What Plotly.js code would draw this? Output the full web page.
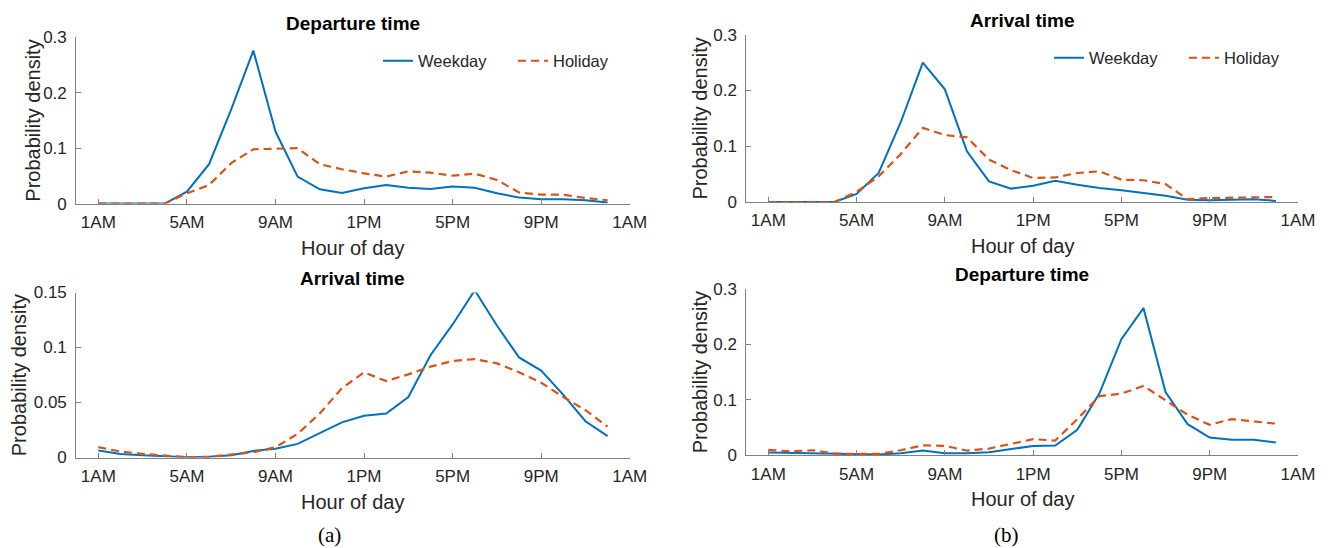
<!DOCTYPE html>
<html>
<head>
<meta charset="utf-8">
<script src="https://cdn.plot.ly/plotly-3.0.1.min.js"></script>
<style>html,body{margin:0;padding:0;background:#fff;}#chart{width:1330px;height:548px;}</style>
</head>
<body>
<div id="chart"></div>
<script>
// ---- Data (hour of day 1..24) ----
const hours = [1,2,3,4,5,6,7,8,9,10,11,12,13,14,15,16,17,18,19,20,21,22,23,24];
const tickHours = [1,5,9,13,17,21,25];
const tickLabels = ['1AM','5AM','9AM','1PM','5PM','9PM','1AM'];
const seriesNames = ['Weekday','Holiday'];

// (a) weekday trips: departure (morning) and arrival
const aDepWeekday = [0,0,0,0,0.0215,0.071,0.17,0.276,0.130,0.0486,0.0257,0.019,0.0275,0.0335,0.0287,0.0263,0.031,0.0287,0.0185,0.011,0.008,0.008,0.006,0.002];
const aDepHoliday = [0,0,0,0,0.0185,0.0335,0.073,0.098,0.099,0.100,0.071,0.062,0.0546,0.0486,0.0582,0.0558,0.0504,0.054,0.0426,0.02,0.016,0.016,0.01,0.006];
const aArrWeekday = [0.0064,0.0033,0.002,0.0012,0.0003,0.0006,0.002,0.006,0.0079,0.0124,0.022,0.032,0.038,0.040,0.055,0.093,0.121,0.152,0.120,0.091,0.079,0.057,0.033,0.0195];
const aArrHoliday = [0.0094,0.0054,0.0033,0.0018,0.0003,0.0006,0.0024,0.0048,0.0094,0.0215,0.040,0.063,0.0774,0.0695,0.0756,0.0826,0.0877,0.0895,0.0856,0.0775,0.068,0.055,0.043,0.028];

// (b)
const bArrWeekday = [0,0,0,0,0.0144,0.052,0.143,0.25,0.202,0.091,0.037,0.024,0.029,0.038,0.031,0.025,0.021,0.0156,0.011,0.004,0.003,0.004,0.005,0.002];
const bArrHoliday = [0,0,0,0,0.018,0.046,0.086,0.133,0.12,0.116,0.076,0.057,0.043,0.044,0.052,0.055,0.040,0.039,0.032,0.005,0.007,0.008,0.009,0.009];
const bDepWeekday = [0.0048,0.0042,0.003,0.0018,0.0012,0.0012,0.0036,0.0084,0.0036,0.0036,0.0054,0.0108,0.0169,0.0175,0.046,0.111,0.209,0.265,0.114,0.056,0.032,0.028,0.028,0.023];
const bDepHoliday = [0.0096,0.0072,0.009,0.003,0.0024,0.0024,0.009,0.018,0.0169,0.0084,0.012,0.020,0.029,0.0265,0.065,0.1066,0.111,0.125,0.099,0.073,0.055,0.065,0.061,0.057];

const yTicks03 = [0,0.1,0.2,0.3];
const yTicks03Text = ['0','0.1','0.2','0.3'];
const yTicks015 = [0,0.05,0.1,0.15];
const yTicks015Text = ['0','0.05','0.1','0.15'];

const panelTitles = ['Departure time','Arrival time','Arrival time','Departure time'];
const xTitle = 'Hour of day';
const yTitle = 'Probability density';
const captions = ['(a)','(b)'];

// ---- Styling ----
const BLUE = '#0072BD', ORANGE = '#D95319';
const FONT = 'Liberation Sans, Arial, sans-serif';
const TEXTC = '#262626';
const AXC = '#808080';

function weekday(y, xa, ya, leg, show){
  return {x: hours, y: y, xaxis: xa, yaxis: ya, type:'scatter', mode:'lines', name: seriesNames[0],
    line:{color:BLUE, width:2}, showlegend: show, legend: leg};
}
function holiday(y, xa, ya, leg, show){
  return {x: hours, y: y, xaxis: xa, yaxis: ya, type:'scatter', mode:'lines', name: seriesNames[1],
    line:{color:ORANGE, width:2.2, dash:'8px,5px'}, showlegend: show, legend: leg};
}

const data = [
  weekday(aDepWeekday,'x','y','legend',true),
  holiday(aDepHoliday,'x','y','legend',true),
  weekday(bArrWeekday,'x2','y2','legend2',true),
  holiday(bArrHoliday,'x2','y2','legend2',true),
  weekday(aArrWeekday,'x3','y3','legend',false),
  holiday(aArrHoliday,'x3','y3','legend',false),
  weekday(bDepWeekday,'x4','y4','legend',false),
  holiday(bDepHoliday,'x4','y4','legend',false)
];

function xax(domain, anchor){
  return {domain: domain, anchor: anchor, range:[0,25], tickvals: tickHours, ticktext: tickLabels,
    showline:true, linecolor:AXC, linewidth:1, ticks:'inside', ticklen:5, tickcolor:AXC, ticklabelstandoff:3,
    showgrid:false, zeroline:false, tickfont:{family:FONT, size:17, color:TEXTC}, fixedrange:true};
}
function yax(domain, anchor, range, tv, tt){
  return {domain: domain, anchor: anchor, range: range, tickvals: tv, ticktext: tt,
    showline:true, linecolor:AXC, linewidth:1, ticks:'inside', ticklen:5, tickcolor:AXC, ticklabelstandoff:5,
    showgrid:false, zeroline:false, tickfont:{family:FONT, size:17, color:TEXTC}, fixedrange:true};
}

const L = [0.0573,0.4735], R = [0.5611,0.9759];
const yTitleShift = [-43,-46,-57,-46];
const annotations = [];
const axPairs = [['x','y'],['x2','y2'],['x3','y3'],['x4','y4']];
axPairs.forEach((p,i)=>{
  annotations.push({text:'<b>'+panelTitles[i]+'</b>', xref:p[0]+' domain', yref:p[1]+' domain', x:0.5, y:1,
    yshift:14, xanchor:'center', yanchor:'middle', showarrow:false, font:{family:FONT, size:19, color:'#000'}});
  annotations.push({text:xTitle, xref:p[0]+' domain', yref:p[1]+' domain', x:0.5, y:0,
    yshift:-44, xanchor:'center', yanchor:'middle', showarrow:false, font:{family:FONT, size:20, color:TEXTC}});
  annotations.push({text:yTitle, xref:p[0]+' domain', yref:p[1]+' domain', x:0, y:0.5,
    xshift:yTitleShift[i], xanchor:'center', yanchor:'middle', textangle:-90, showarrow:false, font:{family:FONT, size:20, color:TEXTC}});
});
annotations.push({text:captions[0], xref:'paper', yref:'paper', x:329/1330, y:1-535/548, xanchor:'center', yanchor:'middle',
  showarrow:false, font:{family:'Liberation Serif, Times New Roman, serif', size:21, color:'#000'}});
annotations.push({text:captions[1], xref:'paper', yref:'paper', x:1006/1330, y:1-535/548, xanchor:'center', yanchor:'middle',
  showarrow:false, font:{family:'Liberation Serif, Times New Roman, serif', size:21, color:'#000'}});

const layout = {
  width:1330, height:548, margin:{l:0,r:0,t:0,b:0}, paper_bgcolor:'#fff', plot_bgcolor:'rgba(0,0,0,0)',
  showlegend:true,
  xaxis: xax(L,'y'), yaxis: yax([0.6285,0.9319],'x',[0,0.3],yTicks03,yTicks03Text),
  xaxis2: xax(R,'y2'), yaxis2: yax([0.6314,0.9367],'x2',[0,0.3],yTicks03,yTicks03Text),
  xaxis3: xax(L,'y3'), yaxis3: yax([0.1651,0.4662],'x3',[0,0.15],yTicks015,yTicks015Text),
  xaxis4: xax(R,'y4'), yaxis4: yax([0.1692,0.4732],'x4',[0,0.3],yTicks03,yTicks03Text),
  legend: {orientation:'h', x:378/1330, y:1-61/548, xanchor:'left', yanchor:'middle', bgcolor:'rgba(0,0,0,0)',
    entrywidth:90, font:{family:FONT, size:16.5, color:TEXTC}},
  legend2: {orientation:'h', x:1049/1330, y:1-58/548, xanchor:'left', yanchor:'middle', bgcolor:'rgba(0,0,0,0)',
    entrywidth:90, font:{family:FONT, size:16.5, color:TEXTC}},
  annotations: annotations
};

Plotly.newPlot('chart', data, layout, {displayModeBar:false, staticPlot:true});
</script>
</body>
</html>
